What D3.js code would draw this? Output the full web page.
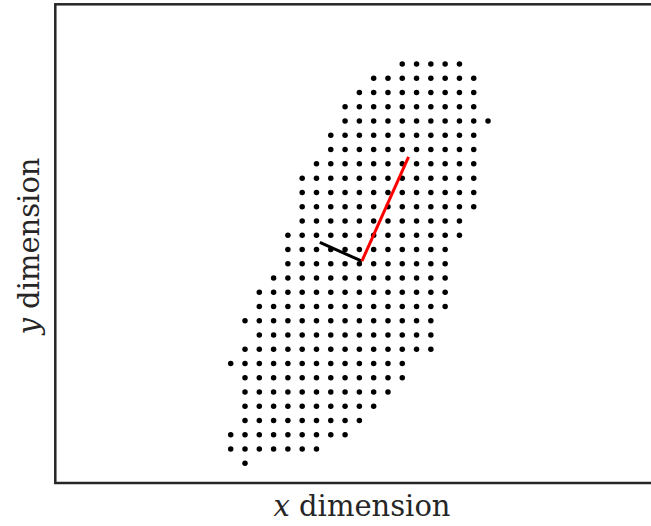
<!DOCTYPE html>
<html>
<head>
	<meta charset="utf-8">
	<title>PCA of a point grid</title>
	<style>
		body { margin: 0; background: #fff; }
		svg { display: block; }
	</style>
</head>
<body>
	<main></main>
	<script src="https://d3js.org/d3.v7.min.js"></script>
	<script type="text/javascript">

		// one row of the grid per entry, top row first: y value, first and last x column
		const rowY    = [28, 27, 26, 25, 24, 23, 22, 21, 20, 19, 18, 17, 16, 15, 14, 13, 12, 11, 10, 9, 8, 7, 6, 5, 4, 3, 2, 1, 0];
		const colFrom = [12, 10,  9,  8,  8,  7,  7,  6,  5,  5,  5,  5,  4,  4,  4,  3,  2,  2,  1, 2, 1, 0, 1, 1, 1, 1, 0, 0, 1];
		const colTo   = [16, 17, 17, 17, 18, 17, 17, 17, 17, 17, 17, 16, 16, 15, 15, 15, 15, 15, 14, 14, 14, 12, 12, 11, 10, 9, 8, 6, 1];

		const xLabel = "dimension";
		const yLabel = "dimension";

		const width = 651;
		const height = 526;

		const points = [];
		rowY.forEach((y, i) => {
			for (let c = colFrom[i]; c <= colTo[i]; c++) points.push([c, y]);
		});

		const x = d3.scaleLinear().domain([-12.27, 29.4]).range([55.3, 651]);
		const y = d3.scaleLinear().domain([-1.38, 32.19]).range([483, 4.3]);

		// principal axes from the covariance of the points
		const n = points.length;
		const mx = d3.mean(points, d => d[0]);
		const my = d3.mean(points, d => d[1]);
		let sxx = 0, syy = 0, sxy = 0;
		points.forEach(d => {
			sxx += (d[0] - mx) * (d[0] - mx);
			syy += (d[1] - my) * (d[1] - my);
			sxy += (d[0] - mx) * (d[1] - my);
		});
		sxx /= n - 1; syy /= n - 1; sxy /= n - 1;
		const tr = sxx + syy, det = sxx * syy - sxy * sxy;
		const disc = Math.sqrt(tr * tr / 4 - det);
		const eig = [tr / 2 + disc, tr / 2 - disc];
		const axes = eig.map((l, i) => {
			let vx = sxy, vy = l - sxx;
			const len = Math.hypot(vx, vy);
			vx /= len; vy /= len;
			if (vy < 0) { vx = -vx; vy = -vy; }
			const s = Math.sqrt(l);
			return { x1: mx, y1: my, x2: mx + vx * s, y2: my + vy * s, color: i === 0 ? "#ff0000" : "#000000" };
		});

		const svg = d3.select("main").append("svg")
			.attr("width", width)
			.attr("height", height);

		svg.append("g")
			.selectAll("circle")
			.data(points)
			.join("circle")
				.attr("cx", d => x(d[0]))
				.attr("cy", d => y(d[1]))
				.attr("r", 2.75)
				.attr("fill", "#000");

		svg.append("g")
			.selectAll("line")
			.data(axes.slice().reverse())
			.join("line")
				.attr("x1", d => x(d.x1))
				.attr("y1", d => y(d.y1))
				.attr("x2", d => x(d.x2))
				.attr("y2", d => y(d.y2))
				.attr("stroke", d => d.color)
				.attr("stroke-width", 3)
				.attr("stroke-linecap", "butt");

		// frame, right side runs off the picture
		svg.append("rect")
			.attr("x", 55.3)
			.attr("y", 4.3)
			.attr("width", 614)
			.attr("height", 483 - 4.3)
			.attr("fill", "none")
			.attr("stroke", "#262626")
			.attr("stroke-width", 2.5);

		const xl = svg.append("text")
			.attr("x", 362)
			.attr("y", 516)
			.attr("text-anchor", "middle")
			.style("font", "29px 'DejaVu Serif'")
			.attr("fill", "#262626");
		xl.append("tspan").style("font-style", "italic").text("x");
		xl.append("tspan").text(" " + xLabel);

		const yl = svg.append("text")
			.attr("transform", "translate(39,246) rotate(-90)")
			.attr("text-anchor", "middle")
			.style("font", "29px 'DejaVu Serif'")
			.attr("fill", "#262626");
		yl.append("tspan").style("font-style", "italic").text("y");
		yl.append("tspan").text(" " + yLabel);

	</script>
</body>
</html>
